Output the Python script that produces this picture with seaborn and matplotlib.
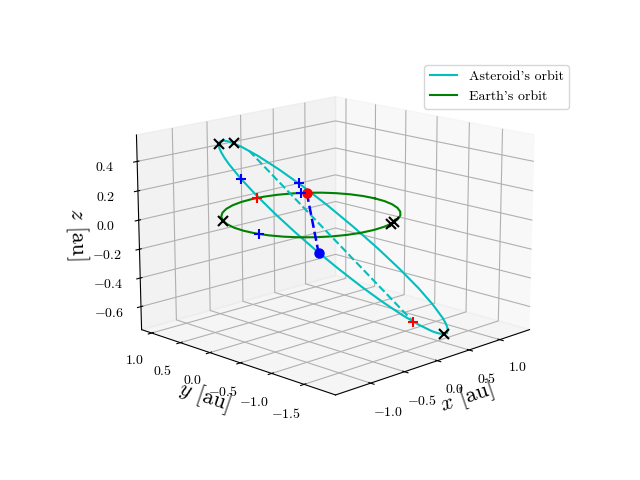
import matplotlib
matplotlib.use('Agg')
import matplotlib.pyplot as plt
import seaborn as sns

sns.set_style('white')
plt.rcParams.update(matplotlib.rcParamsDefault)
plt.rcParams['mathtext.fontset'] = 'cm'
plt.rcParams['font.family'] = ['cmr10', 'DejaVu Sans']
plt.rcParams['axes.formatter.use_mathtext'] = True

# orbit points [au]
asteroid_x = [1.004, 1.094, 1.173, 1.241, 1.297, 1.371, 1.392, 1.359, 1.273, 1.139, 0.961, 0.748, 0.509, 0.255,
              -0.004, -0.255, -0.375, -0.489, -0.596, -0.695, -0.784, -0.863, -0.931, -0.987, -1.062, -1.083,
              -1.050, -0.964, -0.829, -0.652, -0.439, -0.200, 0.054, 0.313, 0.565, 0.685, 0.799, 0.906, 1.004]
asteroid_y = [-1.166, -1.050, -0.926, -0.793, -0.655, -0.364, -0.066, 0.225, 0.498, 0.740, 0.940, 1.090, 1.184, 1.217,
              1.187, 1.097, 1.030, 0.950, 0.857, 0.752, 0.637, 0.512, 0.380, 0.241, -0.050, -0.348,
              -0.639, -0.912, -1.153, -1.354, -1.504, -1.598, -1.631, -1.601, -1.511, -1.444, -1.363, -1.270, -1.166]
asteroid_z = [-0.822, -0.858, -0.886, -0.907, -0.920, -0.920, -0.888, -0.825, -0.733, -0.617, -0.482, -0.333, -0.177, -0.021,
              0.128, 0.264, 0.325, 0.381, 0.430, 0.473, 0.509, 0.538, 0.558, 0.571, 0.571, 0.539,
              0.476, 0.385, 0.269, 0.133, -0.016, -0.172, -0.327, -0.477, -0.613, -0.674, -0.730, -0.779, -0.822]

earth_x = [1, 0.985, 0.940, 0.866, 0.766, 0.643, 0.5, 0.342, 0.174, 0, -0.174, -0.342, -0.5, -0.643, -0.766, -0.866, -0.940, -0.985,
           -1, -0.985, -0.940, -0.866, -0.766, -0.643, -0.5, -0.342, -0.174, 0, 0.174, 0.342, 0.5, 0.643, 0.766, 0.866, 0.940, 0.985, 1]
earth_y = [0, 0.174, 0.342, 0.5, 0.643, 0.766, 0.866, 0.940, 0.985, 1, 0.985, 0.940, 0.866, 0.766, 0.643, 0.5, 0.342, 0.174,
           0, -0.174, -0.342, -0.5, -0.643, -0.766, -0.866, -0.940, -0.985, -1, -0.985, -0.940, -0.866, -0.766, -0.643, -0.5, -0.342, -0.174, 0]
earth_z = [0] * 37

# markers on the two orbits
black_x = [-0.710, -1.031, 1.121, -0.875, 0.309, 0.375]
black_y = [0.733, 0.097, -1.010, 0.485, -0.951, -0.927]
black_z = [0.480, 0.575, -0.868, 0, 0, 0]
blue_x = [-0.004, -0.982, 0.588, -0.974]
blue_y = [1.187, -0.868, 0.809, -0.225]
blue_z = [0.128, 0.402, 0, 0]
red_x = [1.384, 0.070]
red_y = [-0.265, 0.998]
red_z = [-0.913, 0]
chord_x = [-1.079, 1.384]
chord_y = [-0.199, -0.265]
chord_z = [0.559, -0.913]
# closest approach: Earth, then asteroid
near_x = [0.643, 0.977]
near_y = [0.766, 0.925]
near_z = [0, -0.494]

cyan, green, blue, red, black = sns.color_palette(['c', 'g', 'b', 'r', 'k'])

fig = plt.figure(figsize=(6.4, 4.8), dpi=100)
ax = fig.add_subplot(projection='3d', computed_zorder=False)
ax.set_position([0.129, 0.118, 0.775, 0.77])
ax.view_init(elev=15, azim=225)
ax.set_box_aspect((4, 4, 2.9), zoom=1.16)

ax.plot(asteroid_x, asteroid_y, asteroid_z, color=cyan, lw=1.5, label="Asteroid's orbit")
ax.plot(earth_x, earth_y, earth_z, color=green, lw=1.5, label="Earth's orbit")
ax.plot(chord_x, chord_y, chord_z, '--', color=cyan, lw=1.5)
ax.plot(near_x, near_y, near_z, '--', color=blue, lw=1.8)
ax.plot(near_x[:1], near_y[:1], near_z[:1], 'o', color=red, ms=6.5)
ax.plot(near_x[1:], near_y[1:], near_z[1:], 'o', color=blue, ms=6.5)
ax.plot(black_x, black_y, black_z, 'x', color=black, ms=7, mew=1.5)
ax.plot(blue_x, blue_y, blue_z, '+', color=blue, ms=7, mew=1.5)
ax.plot(red_x, red_y, red_z, '+', color=red, ms=7, mew=1.5)

ax.set_xlim(-1.5, 1.5)
ax.set_ylim(-1.97, 1.18)
ax.set_zlim(-0.762, 0.578)
ax.set_xticks([-1, -0.5, 0, 0.5, 1])
ax.set_yticks([-1.5, -1, -0.5, 0, 0.5, 1])
ax.set_zticks([-0.6, -0.4, -0.2, 0, 0.2, 0.4])
ax.set_xlabel('$x$ [au]', fontsize=16, labelpad=-2)
ax.set_ylabel('$y$ [au]', fontsize=16, labelpad=-2)
ax.set_zlabel('$z$ [au]', fontsize=16, labelpad=1)
ax.legend(loc='upper right', bbox_to_anchor=(569 / 640, 1 - 65 / 480), bbox_transform=fig.transFigure, borderaxespad=0)
fig.savefig('out.png', dpi=100)
